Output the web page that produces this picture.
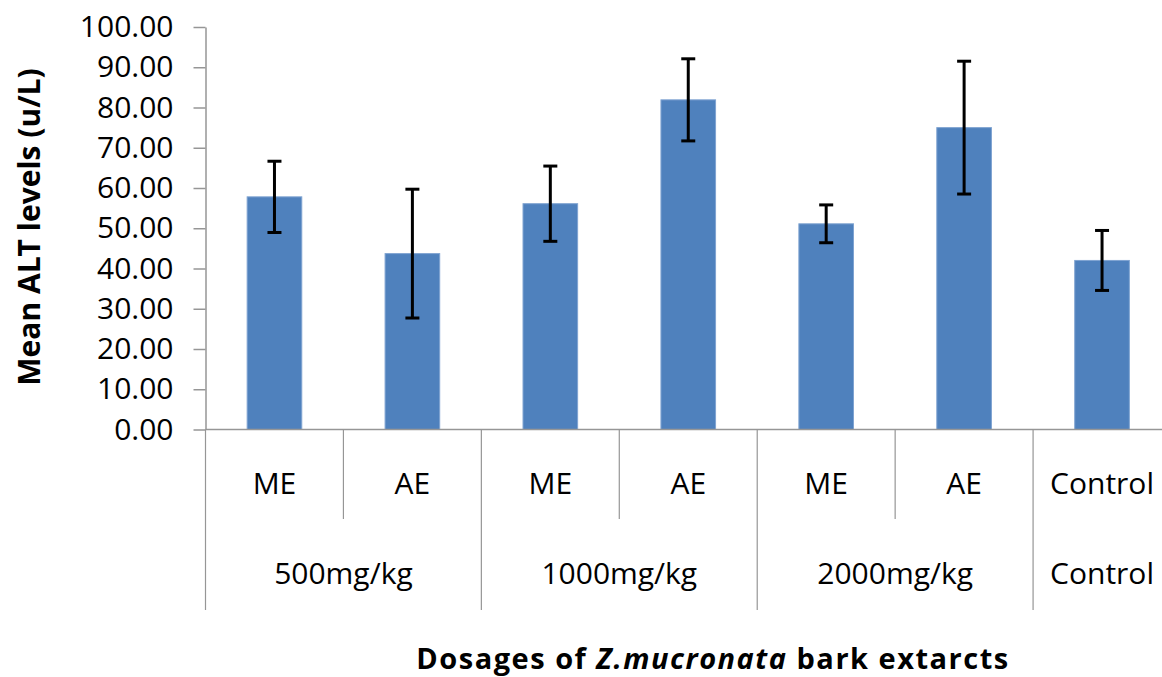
<!DOCTYPE html>
<html>
<head>
<meta charset="utf-8">
<script src="https://cdn.jsdelivr.net/npm/d3@7"></script>
<style>
  body { margin: 0; background: #fff; }
  svg { display: block; }
  text { font-family: "Open Sans", sans-serif; fill: #000; }
</style>
</head>
<body>
<div id="chart"></div>
<script>
// data
const categories = ["ME", "AE", "ME", "AE", "ME", "AE", "Control"];
const groupLabels = ["500mg/kg", "1000mg/kg", "2000mg/kg", "Control"];
const groupSizes = [2, 2, 2, 1];
const means = [57.8, 43.7, 56.1, 81.9, 51.1, 75.0, 42.0];
const errors = [8.85, 16.0, 9.35, 10.2, 4.7, 16.5, 7.45];
const yTicks = [0, 10, 20, 30, 40, 50, 60, 70, 80, 90, 100];

let width = 1162,
  height = 677,
  margin = { left: 205.5, top: 27, bottom: 247.5 };

// plot runs past the right edge in the original image
let plotRight = margin.left + 7 * 137.93;
let plotBottom = height - margin.bottom;

let svg = d3
  .select("#chart")
  .append("svg")
  .attr("width", width)
  .attr("height", height);

let y = d3
  .scaleLinear()
  .domain([0, 100])
  .range([plotBottom, margin.top]);

// one slot per category, bars centred in it
let slot = d3
  .scaleBand()
  .domain(d3.range(categories.length))
  .range([margin.left, plotRight]);

let x = d3
  .scaleBand()
  .domain(d3.range(categories.length))
  .range([margin.left, plotRight])
  .paddingInner(0.604)
  .paddingOuter(0.302);

const axisColor = "#969696";

// y axis
let yAxis = svg
  .append("g")
  .attr("transform", `translate(${margin.left}, 0)`)
  .call(
    d3
      .axisLeft(y)
      .tickValues(yTicks)
      .tickFormat(d3.format(".2f"))
      .tickSize(12)
      .tickSizeOuter(0)
      .tickPadding(20)
  );
yAxis.select(".domain").attr("stroke", axisColor).attr("stroke-width", 1.5);
yAxis.selectAll(".tick line").attr("stroke", axisColor).attr("stroke-width", 1.5);
yAxis
  .selectAll(".tick text")
  .attr("font-family", "Open Sans")
  .attr("font-size", 30)
  .attr("fill", "#000");

// bars
svg
  .append("g")
  .selectAll("rect")
  .data(means)
  .enter()
  .append("rect")
  .attr("x", (d, i) => x(i))
  .attr("y", d => y(d))
  .attr("width", x.bandwidth())
  .attr("height", d => plotBottom - y(d))
  .attr("fill", "#4F81BD")
  .attr("stroke", "#7fa3d1")
  .attr("stroke-width", 1);

// error bars
let err = svg
  .append("g")
  .selectAll("g")
  .data(means)
  .enter()
  .append("g")
  .attr("transform", (d, i) => `translate(${x(i) + x.bandwidth() / 2}, 0)`)
  .attr("stroke", "#000")
  .attr("stroke-width", 3);

err
  .append("line")
  .attr("y1", (d, i) => y(d + errors[i]))
  .attr("y2", (d, i) => y(d - errors[i]));
err
  .append("line")
  .attr("x1", -7)
  .attr("x2", 7)
  .attr("y1", (d, i) => y(d + errors[i]))
  .attr("y2", (d, i) => y(d + errors[i]));
err
  .append("line")
  .attr("x1", -7)
  .attr("x2", 7)
  .attr("y1", (d, i) => y(d - errors[i]))
  .attr("y2", (d, i) => y(d - errors[i]));

// x axis line
svg
  .append("line")
  .attr("x1", margin.left)
  .attr("x2", plotRight)
  .attr("y1", plotBottom)
  .attr("y2", plotBottom)
  .attr("stroke", axisColor)
  .attr("stroke-width", 1.5);

// separators for the two-level category axis
let groupEdges = [0];
groupSizes.forEach((n, i) => groupEdges.push(groupEdges[i] + n));

let edges = d3.range(categories.length + 1);
svg
  .append("g")
  .selectAll("line")
  .data(edges)
  .enter()
  .append("line")
  .attr("x1", i => (i < categories.length ? slot(i) : plotRight))
  .attr("x2", i => (i < categories.length ? slot(i) : plotRight))
  .attr("y1", plotBottom)
  .attr("y2", i => (groupEdges.includes(i) ? 610 : 519))
  .attr("stroke", axisColor)
  .attr("stroke-width", 1.2);

// category labels
svg
  .append("g")
  .selectAll("text")
  .data(categories)
  .enter()
  .append("text")
  .attr("x", (d, i) => slot(i) + slot.bandwidth() / 2)
  .attr("y", 494)
  .attr("text-anchor", "middle")
  .attr("font-size", 30)
  .text(d => d);

// group labels
svg
  .append("g")
  .selectAll("text")
  .data(groupLabels)
  .enter()
  .append("text")
  .attr("x", (d, i) => {
    let a = slot(groupEdges[i]);
    let b = groupEdges[i + 1] < categories.length ? slot(groupEdges[i + 1]) : plotRight;
    return (a + b) / 2;
  })
  .attr("y", 584)
  .attr("text-anchor", "middle")
  .attr("font-size", 30)
  .text(d => d);

// axis titles
svg
  .append("text")
  .attr("transform", `translate(40, 227) rotate(-90)`)
  .attr("text-anchor", "middle")
  .attr("font-size", 30)
  .attr("font-weight", "bold")
  .text("Mean ALT levels (u/L)");

let xTitle = svg
  .append("text")
  .attr("x", 713)
  .attr("y", 669)
  .attr("text-anchor", "middle")
  .attr("font-size", 29)
  .attr("font-weight", "bold")
  .attr("letter-spacing", 1.5);
xTitle.append("tspan").text("Dosages of ");
xTitle.append("tspan").attr("font-style", "italic").text("Z.mucronata");
xTitle.append("tspan").text(" bark extarcts");
</script>
</body>
</html>
